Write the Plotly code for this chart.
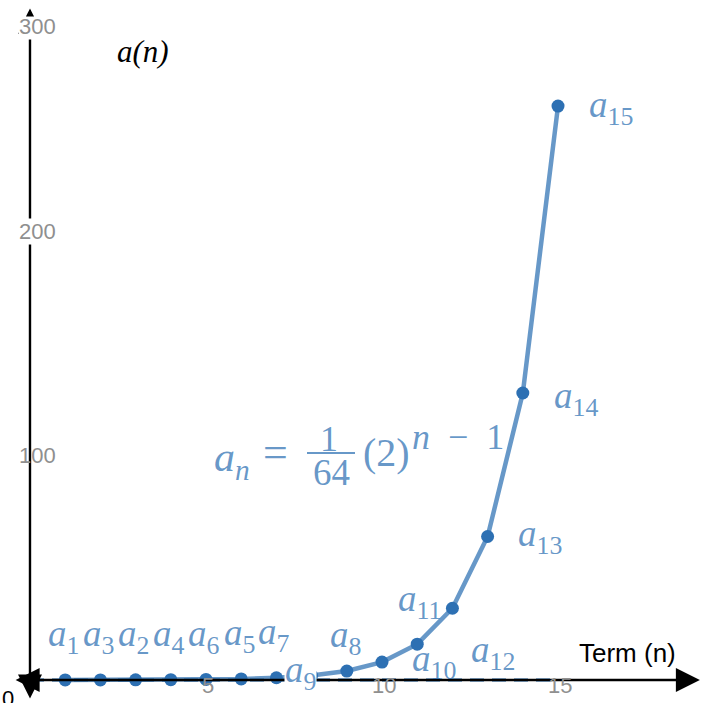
import plotly.graph_objects as go

# Geometric sequence a(n) = (1/64)·2^(n-1), terms n = 1..15
n_terms = [1, 2, 3, 4, 5, 6, 7, 8, 9, 10, 11, 12, 13, 14, 15]
a_values = [0.015625, 0.03125, 0.0625, 0.125, 0.25, 0.5, 1, 2,
            4, 8, 16, 32, 64, 128, 256]

# Subscripts of the term labels, one per point (in point order)
point_label_subs = ["1", "3", "2", "4", "6", "5", "7", "8",
                    "9", "10", "11", "12", "13", "14", "15"]

# Baseline segment along n
baseline_n = [0, 15]
baseline_a = [0, 0]

# Axis tick labels
x_tick_vals = [5, 10, 15]
x_tick_text = ["5", "10", "15"]
y_tick_vals = [100, 200, 300]
y_tick_text = ["100", "200", "300"]

W, H = 702, 703
X_RANGE = [-0.852, 19.09]
Y_RANGE = [-10.26, 303.3]

BLUE = "#2d70b3"
BLUE_SOFT = "rgba(45,112,179,0.72)"
GRAY = "#8f8f8f"
MATH_FONT = "Liberation Serif"
SANS = "Liberation Sans"

# Pixel offsets (dx right, dy down) of each term label from its point
label_offsets = [(-2, -43)] * 7 + [(34, -38), (-46, 1), (52, -1), (2, -43),
                                  (41, 44), (52, 0), (53, 5), (53, 1)]

fig = go.Figure()

# Dashed baseline
fig.add_trace(go.Scatter(
    x=baseline_n, y=baseline_a, mode="lines",
    line=dict(color=BLUE_SOFT, width=3.5, dash="14px,8px"),
    hoverinfo="skip", showlegend=False,
))

# Sequence polyline with term points
fig.add_trace(go.Scatter(
    x=n_terms, y=a_values, mode="lines",
    line=dict(color=BLUE_SOFT, width=4.5),
    hoverinfo="skip", showlegend=False,
))
fig.add_trace(go.Scatter(
    x=n_terms, y=a_values, mode="markers",
    marker=dict(color=BLUE, size=13),
    showlegend=False,
))

annotations = []


def note(**kw):
    kw.setdefault("xanchor", "center")
    kw.setdefault("yanchor", "middle")
    kw.setdefault("showarrow", False)
    annotations.append(kw)


def axis_arrow(tip, tail, size=2.0):
    annotations.append(dict(
        x=tip[0], y=tip[1], ax=tail[0], ay=tail[1],
        xref="x", yref="y", axref="x", ayref="y",
        text="", showarrow=True, arrowhead=2, arrowside="end+start",
        arrowwidth=2.4, arrowsize=size, arrowcolor="black",
        standoff=0, startstandoff=0,
    ))


# Axes with arrowheads at both ends
axis_arrow((0, 298.8), (0, -8.9))
axis_arrow((19.03, 0), (-0.45, 0))

# Tick labels centred on the axes
for v, t in zip(x_tick_vals, x_tick_text):
    note(x=v, y=0, xref="x", yref="y", text=t, xshift=2, yshift=-5,
         font=dict(family=SANS, size=22, color=GRAY))
for v, t in zip(y_tick_vals, y_tick_text):
    top = v >= Y_RANGE[1] - 5
    note(x=0, y=min(v, Y_RANGE[1] - 1), xref="x", yref="y", text=t,
         xshift=8, yshift=-19 if top else 0,
         bgcolor="white" if v != 100 else None, borderpad=0,
         font=dict(family=SANS, size=22, color=GRAY))
note(x=0, y=0, xref="x", yref="y", text="0", xshift=-22, yshift=-18,
     font=dict(family=SANS, size=22, color="black"))

# Small arrowhead tip kept visible above the top tick label
annotations.append(dict(
    x=0, y=299.5, ax=0, ay=297.5, xref="x", yref="y", axref="x", ayref="y",
    text="", showarrow=True, arrowhead=2, arrowwidth=1.8, arrowsize=0.9,
    arrowcolor="black", standoff=0,
))


def pp(px, py):
    return px / W, 1 - py / H


# Axis titles
fx, fy = pp(627, 653)
note(x=fx, y=fy, xref="paper", yref="paper", text="Term (n)",
     font=dict(family=SANS, size=26, color="black"))
fx, fy = pp(143, 52)
note(x=fx, y=fy, xref="paper", yref="paper", text="<i>a(n)</i>",
     font=dict(family=MATH_FONT, size=31, color="black"))

# Term labels next to their points
for n, v, sub, (dx, dy) in zip(n_terms, a_values, point_label_subs, label_offsets):
    note(x=n, y=v, xref="x", yref="y",
         text=f"<i>a</i><sub>{sub}</sub>",
         xshift=dx, yshift=-dy, bgcolor="white" if sub == "9" else None,
         borderpad=0, font=dict(family=MATH_FONT, size=37, color=BLUE_SOFT))

# Formula: a_n = (1/64)(2)^(n-1)
formula_parts = [
    ("<i>a</i><sub><i>n</i></sub>", (232, 460), 42),
    ("=", (275, 452), 44),
    ("1", (329, 439), 36),
    ("64", (331, 472), 37),
    ("(2)", (386, 452), 40),
    ("<i>n</i>\u2002−\u20021", (458, 437), 36),
]
for txt, (px, py), size in formula_parts:
    fx, fy = pp(px, py)
    note(x=fx, y=fy, xref="paper", yref="paper", text=txt,
         font=dict(family=MATH_FONT, size=size, color=BLUE_SOFT))

bx0, by = pp(307, 453)
bx1, _ = pp(355, 453)
fig.add_shape(type="line", xref="paper", yref="paper", x0=bx0, x1=bx1, y0=by, y1=by,
              line=dict(color=BLUE_SOFT, width=2))

fig.update_layout(
    width=W, height=H, margin=dict(l=0, r=0, t=0, b=0),
    paper_bgcolor="white", plot_bgcolor="white",
    xaxis=dict(range=X_RANGE, visible=False),
    yaxis=dict(range=Y_RANGE, visible=False),
    annotations=annotations,
    showlegend=False,
)

fig.write_html("out.html")
